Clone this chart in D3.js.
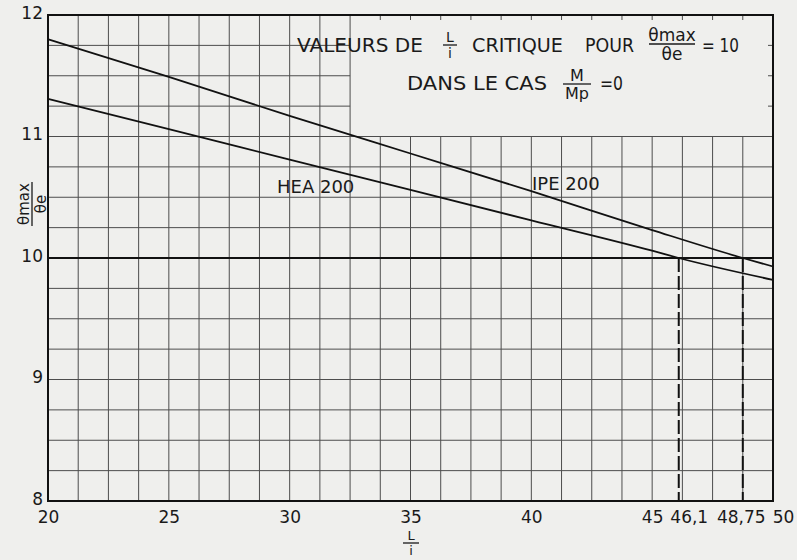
<!DOCTYPE html>
<html>
<head>
    <script src="https://d3js.org/d3.v7.min.js"></script>
    <style>
        body { margin: 0; background: #efefed; }
        text { font-family: "DejaVu Sans", sans-serif; fill: #1a1a1a; }
    </style>
</head>
<body>
    <script>
        // values
        const xTicks = [20, 25, 30, 35, 40, 45, 46.1, 48.75, 50];
        const xTickLabels = ['20', '25', '30', '35', '40', '45', '46,1', '48,75', '50'];
        const yTicks = [8, 9, 10, 11, 12];

        const lOverI = [20, 25, 30, 35, 40, 45, 48.75, 50];
        const ipe200 = [11.80, 11.49, 11.17, 10.86, 10.55, 10.23, 10.0, 9.93];

        const lOverIHea = [20, 25, 30, 35, 40, 45, 46.1, 50];
        const hea200 = [11.31, 11.06, 10.81, 10.56, 10.31, 10.06, 10.0, 9.82];

        const criticalValues = [46.1, 48.75];
        const targetRatio = 10;

        const margin = { top: 15, right: 24, bottom: 59, left: 48 };
        const width = 797 - margin.left - margin.right;
        const height = 560 - margin.top - margin.bottom;

        const svgRoot = d3.select('body')
            .append('svg')
            .attr('width', 797)
            .attr('height', 560);

        const svg = svgRoot.append('g')
            .attr('transform', `translate(${margin.left},${margin.top})`);

        const xScale = d3.scaleLinear().domain([20, 50]).range([0, width]);
        const yScale = d3.scaleLinear().domain([8, 12]).range([height, 0]);

        // grid (a blank box is left for the title, top right)
        const xGrid = d3.range(20, 50.001, 1.25);
        const yGrid = d3.range(8, 12.001, 0.25);
        const boxX = 32.5, boxY = 11;
        const grid = svg.append('g').attr('stroke', '#4d4d4d').attr('stroke-width', 1);

        grid.selectAll('.v').data(xGrid).join('line')
            .attr('x1', d => xScale(d)).attr('x2', d => xScale(d))
            .attr('y1', d => d > boxX + 0.01 ? yScale(boxY) : 0)
            .attr('y2', height);

        grid.selectAll('.h').data(yGrid).join('line')
            .attr('y1', d => yScale(d)).attr('y2', d => yScale(d))
            .attr('x1', 0)
            .attr('x2', d => d > boxY + 0.01 ? xScale(boxX) : width);

        // small ticks on the border of the title box
        grid.selectAll('.tt').data(xGrid.filter(d => d > boxX + 0.01 && d < 50))
            .join('line')
            .attr('x1', d => xScale(d)).attr('x2', d => xScale(d))
            .attr('y1', 0).attr('y2', 5);
        grid.selectAll('.rt').data(yGrid.filter(d => d > boxY + 0.01 && d < 12))
            .join('line')
            .attr('y1', d => yScale(d)).attr('y2', d => yScale(d))
            .attr('x1', width - 5).attr('x2', width);

        // emphasised ratio = 10 line
        svg.append('line')
            .attr('x1', 0).attr('x2', width)
            .attr('y1', yScale(targetRatio)).attr('y2', yScale(targetRatio))
            .attr('stroke', '#111').attr('stroke-width', 2);

        // dashed verticals at critical L/i
        svg.selectAll('.crit').data(criticalValues).join('line')
            .attr('x1', d => xScale(d)).attr('x2', d => xScale(d))
            .attr('y1', yScale(targetRatio)).attr('y2', height)
            .attr('stroke', '#111').attr('stroke-width', 2)
            .attr('stroke-dasharray', '14,4');

        // frame
        svg.append('rect')
            .attr('width', width).attr('height', height)
            .attr('fill', 'none').attr('stroke', '#111').attr('stroke-width', 2);

        // curves
        const line = d3.line()
            .x(d => xScale(d[0]))
            .y(d => yScale(d[1]))
            .curve(d3.curveMonotoneX);

        svg.append('path')
            .datum(lOverI.map((x, i) => [x, ipe200[i]]))
            .attr('fill', 'none').attr('stroke', '#111').attr('stroke-width', 1.8)
            .attr('d', line);

        svg.append('path')
            .datum(lOverIHea.map((x, i) => [x, hea200[i]]))
            .attr('fill', 'none').attr('stroke', '#111').attr('stroke-width', 1.8)
            .attr('d', line);

        svg.append('text').attr('x', 229).attr('y', 178)
            .attr('font-size', 18).text('HEA 200');
        svg.append('text').attr('x', 484).attr('y', 175)
            .attr('font-size', 18).text('IPE 200');

        // axes
        const labelShift = { '46,1': 10, '48,75': -2, '50': 10 };
        const xAxis = svg.append('g')
            .attr('transform', `translate(0,${height})`)
            .call(d3.axisBottom(xScale)
                .tickValues(xTicks)
                .tickSize(0)
                .tickPadding(10)
                .tickFormat((d, i) => xTickLabels[i]));
        xAxis.select('.domain').remove();
        xAxis.selectAll('text')
            .attr('font-size', 17)
            .attr('font-family', '"DejaVu Sans", sans-serif')
            .attr('fill', '#1a1a1a')
            .attr('dx', (d, i) => labelShift[xTickLabels[i]] || 0);

        const yAxis = svg.append('g')
            .call(d3.axisLeft(yScale)
                .tickValues(yTicks)
                .tickSize(0)
                .tickPadding(5)
                .tickFormat(d3.format('d')));
        yAxis.select('.domain').remove();
        yAxis.selectAll('text')
            .attr('font-size', 17)
            .attr('font-family', '"DejaVu Sans", sans-serif')
            .attr('fill', '#1a1a1a')
            .attr('dy', '0.2em');

        // fraction helper: numerator, bar, denominator
        function fraction(g, cx, barY, num, den, size, barW) {
            g.append('text').attr('x', cx).attr('y', barY - 3)
                .attr('text-anchor', 'middle').attr('font-size', size).text(num);
            g.append('line')
                .attr('x1', cx - barW / 2).attr('x2', cx + barW / 2)
                .attr('y1', barY).attr('y2', barY)
                .attr('stroke', '#1a1a1a').attr('stroke-width', 1.3);
            g.append('text').attr('x', cx).attr('y', barY + size * 0.95)
                .attr('text-anchor', 'middle').attr('font-size', size).text(den);
        }

        // x axis title L/i
        fraction(svgRoot.append('g'), 411, 543, 'L', 'i', 13, 16);

        // y axis title θmax/θe (rotated)
        const yTitle = svgRoot.append('g')
            .attr('transform', 'translate(32,204) rotate(-90)');
        fraction(yTitle, 0, 0, 'θmax', 'θe', 15, 44);

        // chart title
        const title = svgRoot.append('g');
        function word(x, y, len, str, size) {
            title.append('text').attr('x', x).attr('y', y).attr('font-size', size || 20)
                .attr('textLength', len).attr('lengthAdjust', 'spacingAndGlyphs').text(str);
        }
        word(297, 52, 126, 'VALEURS DE');
        fraction(title, 450, 45, 'L', 'i', 14, 14);
        word(472, 52, 91, 'CRITIQUE');
        word(585, 52, 49, 'POUR');
        fraction(title, 672, 44, 'θmax', 'θe', 17, 46);
        word(702, 52, 37, '= 10', 19);

        word(407, 90, 140, 'DANS LE CAS');
        fraction(title, 577, 84, 'M', 'Mp', 16, 28);
        word(600, 90, 23, '=0');
    </script>
</body>
</html>
